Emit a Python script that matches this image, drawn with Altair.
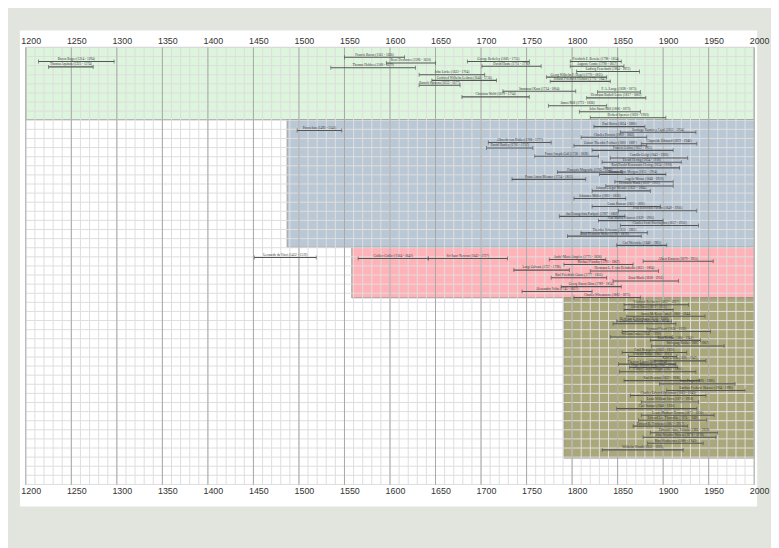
import altair as alt
import pandas as pd

# ---------------- data ----------------
# group: 0 philosophy (green), 1 biology/medicine (blue), 2 physics (red), 3 psychology (olive)
names = [
    # green
    "Bacon Roger (1214 - 1294)", "Thomas Aquinas (1225 - 1274)", "Francis Bacon (1561 - 1626)",
    "René Descartes (1596 - 1650)", "Thomas Hobbes (1588 - 1679)", "John Locke (1632 - 1704)",
    "Gottfried Wilhelm Leibniz (1646 - 1716)", "Baruch Spinoza (1632 - 1677)", "George Berkeley (1685 - 1753)",
    "David Hume (1711 - 1776)", "Christian Wolff (1679 - 1754)", "Immanuel Kant (1724 - 1804)",
    "Friedrich E. Beneke (1798 - 1854)", "Auguste Comte (1798 - 1857)", "Ludwig Feuerbach (1804 - 1872)",
    "Georg Wilhelm F. Hegel (1770 - 1831)", "Johann Friedrich Herbart (1776 - 1841)", "F. A. Lange (1828 - 1875)",
    "Hermann Rudolf Lotze (1817 - 1881)", "James Mill (1773 - 1836)", "John Stuart Mill (1806 - 1873)",
    "Herbert Spencer (1820 - 1903)",
    # blue
    "Paracelsus (1493 - 1541)", "Paul Broca (1824 - 1880)", "Santiago Ramón y Cajal (1852 - 1934)",
    "Charles Darwin (1809 - 1882)", "Albrecht von Haller (1708 - 1777)", "Claparède Édouard (1873 - 1940)",
    "Gustav Theodor Fechner (1801 - 1887)", "David Hartley (1705 - 1757)", "Francis Galton (1822 - 1911)",
    "Franz Joseph Gall (1758 - 1828)", "Camillo Golgi (1843 - 1926)", "Ewald Hering (1834 - 1918)",
    "Karl Ewald Konstantin Hering (1834 - 1918)", "François Magendie (1783 - 1855)",
    "Thomas Hunt Morgan (1835 - 1904)", "Franz Anton Mesmer (1734 - 1815)", "Angelo Mosso (1846 - 1910)",
    "Hermann Munk (1839 - 1912)", "Johann Gregor Mendel (1822 - 1884)", "Johannes Müller (1801 - 1858)",
    "Louis Pasteur (1822 - 1895)", "Ivan Petrovich Pavlov (1849 - 1936)", "Jan Evangelista Purkyně (1787 - 1869)",
    "Jean Martin Charcot (1829 - 1905)", "Charles Scott Sherrington (1857 - 1952)", "Theodor Schwann (1810 - 1882)",
    "Ernst Heinrich Weber (1795 - 1878)", "Carl Wernicke (1848 - 1905)",
    # red
    "Leonardo da Vinci (1452 - 1519)", "Galileo Galilei (1564 - 1642)", "Sir Isaac Newton (1643 - 1727)",
    "André-Marie Ampère (1775 - 1836)", "Albert Einstein (1879 - 1955)", "Michael Faraday (1791 - 1867)",
    "Luigi Galvani (1737 - 1798)", "Hermann L. F. von Helmholtz (1821 - 1894)", "Karl Friedrich Gauss (1777 - 1855)",
    "Ernst Mach (1838 - 1916)", "Georg Simon Ohm (1789 - 1854)", "Alessandro Volta (1745 - 1827)",
    "Charles Wheatstone (1802 - 1875)",
    # olive
    "Vladimir Bechterev (1857 - 1927)", "Alfred Binet (1857 - 1911)", "James McKeen Cattell (1860 - 1944)",
    "Hermann Ebbinghaus (1850 - 1909)", "Granville Stanley Hall (1846 - 1924)", "Sigmund Freud (1856 - 1939)",
    "William James (1842 - 1910)", "Kurt Koffka (1886 - 1941)", "Wolfgang Köhler (1887 - 1967)",
    "Emil Kraepelin (1856 - 1926)", "Oswald Külpe (1862 - 1915)", "Kurt Lewin (1890 - 1947)",
    "Theodor Lipps (1851 - 1914)", "Hugo Münsterberg (1863 - 1916)", "Conwy Lloyd Morgan (1852 - 1936)",
    "Karl Pearson (1857 - 1936)", "Jean Piaget (1896 - 1980)", "Burrhus Frederic Skinner (1904 - 1990)",
    "Charles Edward Spearman (1863 - 1945)", "Louis William Stern (1871 - 1938)", "Carl Stumpf (1848 - 1936)",
    "Lewis Madison Terman (1877 - 1956)", "Edward Lee Thorndike (1874 - 1949)", "Edward B. Titchener (1867 - 1927)",
    "Edward Chace Tolman (1886 - 1959)", "John Broadus Watson (1878 - 1958)", "Max Wertheimer (1880 - 1943)",
    "Wilhelm Wundt (1832 - 1920)",
]
starts = [
    1214, 1225, 1550, 1596, 1535, 1632, 1646, 1632, 1685, 1701, 1679, 1724, 1798, 1798, 1805, 1772, 1776, 1828,
    1816, 1774, 1808, 1820,
    1498, 1824, 1853, 1810, 1708, 1876, 1802, 1706, 1822, 1759, 1842, 1833, 1835, 1784, 1830, 1734, 1847, 1837,
    1822, 1802, 1822, 1851, 1786, 1829, 1853, 1810, 1795, 1849,
    1451, 1565, 1642, 1775, 1878, 1791, 1736, 1820, 1777, 1845, 1788, 1745, 1802,
    1857, 1857, 1860, 1849, 1845, 1855, 1842, 1886, 1887, 1855, 1862, 1890, 1851, 1863, 1852, 1857, 1896, 1904,
    1864, 1876, 1849, 1876, 1873, 1867, 1886, 1878, 1883, 1833,
]
ends = [
    1297, 1274, 1616, 1650, 1628, 1704, 1717, 1677, 1753, 1766, 1753, 1804, 1854, 1857, 1874, 1838, 1842, 1875,
    1881, 1838, 1875, 1903,
    1547, 1880, 1936, 1882, 1777, 1937, 1882, 1757, 1911, 1829, 1927, 1920, 1918, 1855, 1903, 1815, 1911, 1911,
    1886, 1859, 1897, 1937, 1858, 1900, 1939, 1883, 1876, 1904,
    1519, 1642, 1729, 1837, 1955, 1867, 1797, 1895, 1838, 1917, 1854, 1822, 1875,
    1928, 1911, 1946, 1909, 1914, 1952, 1910, 1941, 1967, 1926, 1915, 1947, 1914, 1916, 1936, 1940, 1979, 1990,
    1947, 1939, 1937, 1956, 1948, 1927, 1960, 1958, 1944, 1922,
]
# vertical track of each bar, counted from the top of the timeline
tracks = [
    14.3, 19.7, 10, 15.7, 20.5, 27.7, 33.3, 38.3, 14.3, 19, 50, 44.3, 14.3, 19, 24.3, 30, 34.3, 45, 51, 59, 65, 71,
    84, 80, 85.7, 90.7, 96, 97.3, 99.3, 101.7, 104, 110, 111.7, 116, 121.7, 126, 128.3, 133.3, 135.7, 140, 145,
    152.7, 160.7, 165, 170.7, 175, 180, 187.3, 190.7, 200,
    212.3, 213.3, 213.3, 214.3, 216, 219.3, 225, 226, 232.7, 236, 241.7, 246.7, 252.7,
    260, 265, 271.7, 276.7, 279.3, 287, 292.7, 296, 301.7, 308.3, 312.3, 316.7, 320, 323.3, 327.7, 336.7, 340,
    346.7, 351.7, 358.3, 365, 371.7, 376.7, 382.7, 389.3, 394, 400, 406.7,
]
groups = [0] * 22 + [1] * 28 + [2] * 13 + [3] * 28

band_start = [1200, 1487, 1558, 1791]
band_end = [2000, 2000, 2000, 2000]
band_top = [0, 73, 202, 253]
band_bottom = [73, 202, 253, 415]
band_color = ["#dcf5dc", "#bac8d6", "#ffb3b8", "#aaa87a"]

people = pd.DataFrame({"name": names, "start": starts, "end": ends, "track": tracks, "group": groups})
bands = pd.DataFrame({"s": band_start, "e": band_end, "t": band_top, "b": band_bottom, "c": band_color})

W, H = 736, 442
xs = alt.Scale(domain=[1200, 2000], nice=False, zero=False)
ys = alt.Scale(domain=[0, H], reverse=True, nice=False, zero=False)
years50 = list(range(1200, 2001, 50))


def year_axis(orient):
    return alt.Axis(orient=orient, values=years50, format="d", labelFontSize=9, labelColor="#333",
                    labelFont="Liberation Sans", domain=False, ticks=False, zindex=1,
                    labelOffset=5, labelFlush=False, grid=False, title=None, labelPadding=2)


# white sheet behind the whole chart (page decoration)
sheet = alt.Chart(pd.DataFrame({"k": [0]})).mark_rect(color="white").encode(
    x=alt.value(-6), x2=alt.value(W + 3), y=alt.value(-17), y2=alt.value(H + 22)
)

band_layer = alt.Chart(bands).mark_rect(stroke="#8c8c8c", strokeWidth=0.8).encode(
    x=alt.X("s:Q", scale=xs, axis=year_axis("top")),
    x2="e:Q",
    y=alt.Y("t:Q", scale=ys, axis=None),
    y2="b:Q",
    color=alt.Color("c:N", scale=None),
)

minor_v = alt.Chart(alt.sequence(1200, 2001, 10, as_="yr")).mark_rule(color="#dedede", strokeWidth=1).encode(
    x=alt.X("yr:Q", scale=xs, axis=year_axis("bottom"))
)
minor_h = alt.Chart(alt.sequence(0, H + 1, 9.2, as_="t")).mark_rule(color="#dedede", strokeWidth=1).encode(
    y=alt.Y("t:Q", scale=ys, axis=None)
)
major_v = alt.Chart(alt.sequence(1200, 2001, 50, as_="yr")).mark_rule(color="#a8a8a8", strokeWidth=1).encode(
    x=alt.X("yr:Q", scale=xs, axis=None)
)

base = alt.Chart(people)
bars = base.mark_rule(color="#555555", strokeWidth=1.1).encode(
    x=alt.X("start:Q", scale=xs, axis=None), x2="end:Q", y=alt.Y("track:Q", scale=ys, axis=None)
)
cap_s = base.mark_tick(orient="vertical", color="#555555", thickness=0.9, size=4).encode(
    x=alt.X("start:Q", scale=xs, axis=None), y=alt.Y("track:Q", scale=ys, axis=None)
)
cap_e = base.mark_tick(orient="vertical", color="#555555", thickness=0.9, size=4).encode(
    x=alt.X("end:Q", scale=xs, axis=None), y=alt.Y("track:Q", scale=ys, axis=None)
)
labels = base.transform_calculate(mid="(datum.start + datum.end) / 2").mark_text(
    fontSize=3.4, font="Liberation Serif", color="#333333", baseline="alphabetic", dy=-1.6
).encode(x=alt.X("mid:Q", scale=xs, axis=None), y=alt.Y("track:Q", scale=ys, axis=None), text="name:N")

chart = alt.layer(sheet, band_layer, minor_v, minor_h, major_v, bars, cap_s, cap_e, labels).resolve_axis(
    x="independent"
).properties(
    width=W, height=H, autosize=alt.AutoSizeParams(type="none"),
    padding={"left": 18, "top": 37, "right": 17, "bottom": 61},
    background="#e2e5de",
).configure_view(stroke=None)

chart.save("out.html", embed_options={"renderer": "svg", "actions": False})
